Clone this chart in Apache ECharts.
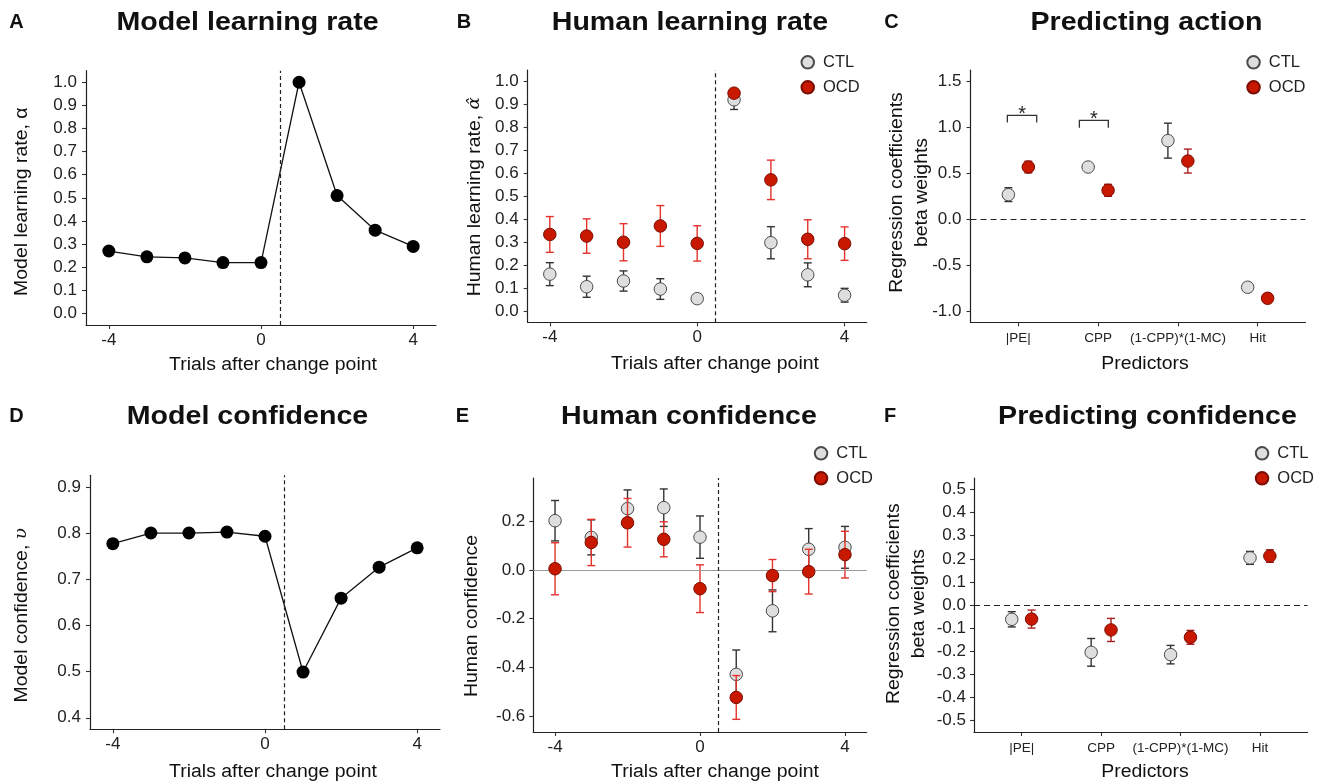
<!DOCTYPE html>
<html><head><meta charset="utf-8">
<script src="https://cdn.jsdelivr.net/npm/echarts@6/dist/echarts.min.js"></script>
<style>html,body{margin:0;padding:0;background:#fff}#main{width:1320px;height:784px}</style>
</head><body><div id="main"></div>
<script>
// ---------- data ----------
const trials = [-4, -3, -2, -1, 0, 1, 2, 3, 4];
const trialTicks = [-4, 0, 4];
const predictors = ['|PE|', 'CPP', '(1-CPP)*(1-MC)', 'Hit'];
const groups = ['CTL', 'OCD'];

const modelLR = [0.27, 0.245, 0.24, 0.22, 0.22, 1.0, 0.51, 0.36, 0.29];
const humanLR_CTL = [0.16, 0.105, 0.13, 0.095, 0.053, 0.92, 0.297, 0.157, 0.068];
const humanLR_CTL_se = [0.05, 0.046, 0.044, 0.045, 0.015, 0.042, 0.07, 0.052, 0.03];
const humanLR_OCD = [0.333, 0.326, 0.299, 0.37, 0.294, 0.949, 0.571, 0.312, 0.293];
const humanLR_OCD_se = [0.078, 0.075, 0.081, 0.089, 0.077, 0.02, 0.086, 0.085, 0.073];

const action_CTL = [0.265, 0.565, 0.852, -0.742];
const action_CTL_se = [0.075, 0.02, 0.19, 0.02];
const action_OCD = [0.565, 0.312, 0.63, -0.862];
const action_OCD_se = [0.063, 0.065, 0.13, 0.02];
const sigBrackets = [[0.862, 1.23, 1.127, 1.048], [1.765, 2.128, 1.073, 0.993]];

const modelConf = [0.777, 0.800, 0.800, 0.802, 0.793, 0.499, 0.659, 0.726, 0.768];
const humanConf_CTL = [0.2025, 0.134, 0.252, 0.256, 0.135, -0.429, -0.168, 0.085, 0.093];
const humanConf_CTL_se = [0.083, 0.072, 0.077, 0.077, 0.087, 0.1, 0.086, 0.085, 0.086];
const humanConf_OCD = [0.005, 0.113, 0.194, 0.126, -0.077, -0.524, -0.023, -0.007, 0.063];
const humanConf_OCD_se = [0.107, 0.095, 0.1, 0.072, 0.098, 0.09, 0.066, 0.092, 0.096];

const conf_CTL = [-0.062, -0.205, -0.215, 0.204];
const conf_CTL_se = [0.033, 0.06, 0.04, 0.028];
const conf_OCD = [-0.061, -0.108, -0.14, 0.212];
const conf_OCD_se = [0.039, 0.05, 0.03, 0.027];

const aYTicks = [0, 0.1, 0.2, 0.3, 0.4, 0.5, 0.6, 0.7, 0.8, 0.9, 1.0];
const cYTicks = [-1.0, -0.5, 0, 0.5, 1.0, 1.5];
const dYTicks = [0.4, 0.5, 0.6, 0.7, 0.8, 0.9];
const eYTicks = [-0.6, -0.4, -0.2, 0, 0.2];
const fYTicks = [-0.5, -0.4, -0.3, -0.2, -0.1, 0, 0.1, 0.2, 0.3, 0.4, 0.5];

// ---------- styling ----------
const FONT = 'Liberation Sans, Arial, sans-serif';
const CTL_FILL = '#dedede', CTL_BORDER = '#4a4a4a', CTL_ERR = '#333';
const OCD_FILL = '#c81800', OCD_BORDER = '#7a0c00', OCD_ERR_LIGHT = '#e4322b', OCD_ERR_DARK = '#a81e1e';
const DODGE = 0.125;

const grids = [
  {left: 86, top: 70.7, width: 350, height: 254.3},
  {left: 527.7, top: 70, width: 339, height: 252.3},
  {left: 970.5, top: 70, width: 335, height: 252.3},
  {left: 90, top: 475.3, width: 350, height: 254},
  {left: 533.3, top: 478, width: 333.4, height: 254},
  {left: 974, top: 478, width: 333.6, height: 254}
].map(g => Object.assign({containLabel: false, outerBoundsMode: 'none'}, g));

const f1 = v => Number(v).toFixed(1);
const fInt = v => String(Math.round(v));
const fCat = v => predictors[Math.round(v) - 1];

function axis(gi, min, max, ticks, fmt, fs, margin) {
  return {
    type: 'value', gridIndex: gi, min, max,
    axisLine: {show: true, onZero: false, lineStyle: {color: '#222', width: 1.2}},
    axisTick: {show: true, length: 4, customValues: ticks, lineStyle: {color: '#333', width: 1.1}},
    axisLabel: {show: true, customValues: ticks, formatter: fmt, color: '#222', fontSize: fs, fontFamily: FONT, margin},
    splitLine: {show: false}
  };
}

const xAxes = [
  axis(0, -4.6, 4.6, trialTicks, fInt, 17, 7),
  axis(1, -4.6, 4.6, trialTicks, fInt, 17, 7),
  axis(2, 0.4, 4.6, [1, 2, 3, 4], fCat, 13.5, 9),
  axis(3, -4.6, 4.6, trialTicks, fInt, 17, 7),
  axis(4, -4.6, 4.6, trialTicks, fInt, 17, 7),
  axis(5, 0.4, 4.6, [1, 2, 3, 4], fCat, 13.5, 9)
];
const yAxes = [
  axis(0, -0.05, 1.05, aYTicks, f1, 17, 9),
  axis(1, -0.05, 1.05, aYTicks, f1, 17, 9),
  axis(2, -1.123, 1.62, cYTicks, f1, 17, 9),
  axis(3, 0.375, 0.925, dYTicks, f1, 17, 9),
  axis(4, -0.666, 0.378, eYTicks, f1, 17, 8),
  axis(5, -0.55, 0.55, fYTicks, f1, 17, 8)
];

function vline() {
  return {xAxis: 0.5, lineStyle: {color: '#222', type: [4, 3], width: 1.2}};
}
function hdash() {
  return {yAxis: 0, lineStyle: {color: '#222', type: [6, 4], width: 1.2}};
}
function markLines(items) {
  return {silent: true, symbol: ['none', 'none'], label: {show: false}, animation: false, data: items};
}

function errSeries(name, gi, xs, ys, se, color, z) {
  return {
    type: 'custom', name, xAxisIndex: gi, yAxisIndex: gi, z, silent: true,
    data: xs.map((x, i) => [x, ys[i] - se[i], ys[i] + se[i]]),
    encode: {x: 0, y: [1, 2]},
    renderItem(params, api) {
      const lo = api.coord([api.value(0), api.value(1)]);
      const hi = api.coord([api.value(0), api.value(2)]);
      const w = 4;
      const st = {stroke: color, lineWidth: 1.4};
      return {type: 'group', children: [
        {type: 'line', shape: {x1: lo[0], y1: lo[1], x2: hi[0], y2: hi[1]}, style: st},
        {type: 'line', shape: {x1: lo[0] - w, y1: lo[1], x2: lo[0] + w, y2: lo[1]}, style: st},
        {type: 'line', shape: {x1: hi[0] - w, y1: hi[1], x2: hi[0] + w, y2: hi[1]}, style: st}
      ]};
    }
  };
}
function ptSeries(name, gi, xs, ys, fill, border, z, ml) {
  const s = {
    type: 'scatter', name, xAxisIndex: gi, yAxisIndex: gi, z, silent: true,
    symbol: 'circle', symbolSize: 12.5,
    data: xs.map((x, i) => [x, ys[i]]),
    itemStyle: {color: fill, borderColor: border, borderWidth: 1, opacity: 1},
    emphasis: {disabled: true}
  };
  if (ml) s.markLine = markLines(ml);
  return s;
}
function lineSeries(gi, ys, ml) {
  return {
    type: 'line', name: 'model', xAxisIndex: gi, yAxisIndex: gi, z: 3, silent: true,
    data: trials.map((t, i) => [t, ys[i]]),
    symbol: 'circle', symbolSize: 13, showSymbol: true,
    itemStyle: {color: '#000'}, lineStyle: {color: '#111', width: 1.3},
    emphasis: {disabled: true},
    markLine: markLines(ml)
  };
}

const catCTL = predictors.map((_, i) => i + 1 - DODGE);
const catOCD = predictors.map((_, i) => i + 1 + DODGE);

const series = [
  // A
  lineSeries(0, modelLR, [vline()]),
  // B
  errSeries('CTL err', 1, trials, humanLR_CTL, humanLR_CTL_se, CTL_ERR, 2),
  ptSeries('CTL', 1, trials, humanLR_CTL, CTL_FILL, CTL_BORDER, 3, [vline()]),
  errSeries('OCD err', 1, trials, humanLR_OCD, humanLR_OCD_se, OCD_ERR_LIGHT, 4),
  ptSeries('OCD', 1, trials, humanLR_OCD, OCD_FILL, OCD_BORDER, 5),
  // C
  errSeries('CTL err', 2, catCTL, action_CTL, action_CTL_se, CTL_ERR, 2),
  ptSeries('CTL', 2, catCTL, action_CTL, CTL_FILL, CTL_BORDER, 3, [hdash()]),
  errSeries('OCD err', 2, catOCD, action_OCD, action_OCD_se, OCD_ERR_DARK, 4),
  ptSeries('OCD', 2, catOCD, action_OCD, OCD_FILL, OCD_BORDER, 5),
  {
    type: 'custom', name: 'sig', xAxisIndex: 2, yAxisIndex: 2, z: 6, silent: true,
    data: sigBrackets,
    encode: {x: [0, 1], y: [2, 3]},
    renderItem(params, api) {
      const x1 = api.value(0), x2 = api.value(1), yt = api.value(2), yb = api.value(3);
      const a = api.coord([x1, yb]), b = api.coord([x1, yt]), c = api.coord([x2, yt]), d = api.coord([x2, yb]);
      return {type: 'group', children: [
        {type: 'polyline', shape: {points: [a, b, c, d]}, style: {stroke: '#333', lineWidth: 1.3, fill: null}},
        {type: 'text', style: {text: '*', x: (b[0] + c[0]) / 2, y: b[1] - 1, align: 'center', verticalAlign: 'middle',
          textAlign: 'center', textVerticalAlign: 'middle', font: '20px ' + FONT, fill: '#222'}}
      ]};
    }
  },
  // D
  lineSeries(3, modelConf, [vline()]),
  // E
  errSeries('CTL err', 4, trials, humanConf_CTL, humanConf_CTL_se, CTL_ERR, 2),
  ptSeries('CTL', 4, trials, humanConf_CTL, CTL_FILL, CTL_BORDER, 3,
    [{yAxis: 0, lineStyle: {color: '#9a9a9a', type: 'solid', width: 1.1}}, vline()]),
  errSeries('OCD err', 4, trials, humanConf_OCD, humanConf_OCD_se, OCD_ERR_LIGHT, 4),
  ptSeries('OCD', 4, trials, humanConf_OCD, OCD_FILL, OCD_BORDER, 5),
  // F
  errSeries('CTL err', 5, catCTL, conf_CTL, conf_CTL_se, CTL_ERR, 2),
  ptSeries('CTL', 5, catCTL, conf_CTL, CTL_FILL, CTL_BORDER, 3, [hdash()]),
  errSeries('OCD err', 5, catOCD, conf_OCD, conf_OCD_se, OCD_ERR_DARK, 4),
  ptSeries('OCD', 5, catOCD, conf_OCD, OCD_FILL, OCD_BORDER, 5)
];

function legendAt(left, top) {
  return {
    data: groups, left, top, orient: 'vertical', padding: 0, itemGap: 6,
    itemWidth: 12.5, itemHeight: 12.5, icon: 'circle', selectedMode: false,
    textStyle: {fontSize: 16.5, color: '#222', fontFamily: FONT, padding: [0, 0, 0, 4], lineHeight: 19}
  };
}

function txt(text, x, y, size, opts) {
  opts = opts || {};
  const el = {
    type: 'text', x, y, silent: true,
    rotation: opts.rot || 0, scaleX: opts.sx || 1,
    style: {
      text, font: (opts.bold ? 'bold ' : '') + size + 'px ' + FONT, fill: '#111',
      align: 'center', verticalAlign: 'middle', textAlign: 'center', textVerticalAlign: 'middle',
      lineHeight: opts.lh || undefined, rich: opts.rich || undefined
    }
  };
  return el;
}
const R = Math.PI / 2;
const italicRich = {i: {fontStyle: 'italic', fontFamily: 'DejaVu Serif', fontSize: 17, fill: '#111'}};

const graphics = [
  // panel letters
  txt('A', 16.5, 22.5, 20, {bold: true}),
  txt('B', 464, 22.5, 20, {bold: true}),
  txt('C', 891.5, 22.5, 20, {bold: true}),
  txt('D', 16.5, 416, 20, {bold: true}),
  txt('E', 462.5, 416, 20, {bold: true}),
  txt('F', 890, 416, 20, {bold: true}),
  // titles
  txt('Model learning rate', 247.5, 23, 26, {bold: true, sx: 1.1}),
  txt('Human learning rate', 690, 23, 26, {bold: true, sx: 1.1}),
  txt('Predicting action', 1146.5, 23, 26, {bold: true, sx: 1.1}),
  txt('Model confidence', 247.5, 417, 26, {bold: true, sx: 1.1}),
  txt('Human confidence', 689, 417, 26, {bold: true, sx: 1.1}),
  txt('Predicting confidence', 1147.5, 417, 26, {bold: true, sx: 1.1}),
  // x-axis titles
  txt('Trials after change point', 273, 365, 18, {sx: 1.08}),
  txt('Trials after change point', 715, 364.5, 18, {sx: 1.08}),
  txt('Predictors', 1145, 364.5, 18, {sx: 1.08}),
  txt('Trials after change point', 273, 772, 18, {sx: 1.08}),
  txt('Trials after change point', 715, 772, 18, {sx: 1.08}),
  txt('Predictors', 1145, 772, 18, {sx: 1.08}),
  // y-axis titles
  txt('Model learning rate, α', 21.7, 201.7, 18, {rot: R, sx: 1.08}),
  txt('Human learning rate, {i|α̂}', 475, 196.7, 18, {rot: R, sx: 1.08, rich: italicRich}),
  txt('Regression coefficients\nbeta weights', 909.2, 192.5, 18, {rot: R, sx: 1.08, lh: 25}),
  txt('Model confidence, {i|υ}', 21.7, 615.3, 18, {rot: R, sx: 1.08, rich: italicRich}),
  txt('Human confidence', 471.7, 616, 18, {rot: R, sx: 1.08}),
  txt('Regression coefficients\nbeta weights', 907, 603.7, 18, {rot: R, sx: 1.08, lh: 25})
];

const chart = echarts.init(document.getElementById('main'), null, {renderer: 'canvas'});
chart.setOption({
  animation: false,
  backgroundColor: '#fff',
  textStyle: {fontFamily: FONT},
  grid: grids,
  xAxis: xAxes,
  yAxis: yAxes,
  legend: [
    legendAt(800.5, 52.8),
    legendAt(1246.3, 52.8),
    legendAt(813.8, 443.8),
    legendAt(1254.8, 443.8)
  ],
  series: series,
  graphic: {elements: graphics}
});
</script></body></html>
